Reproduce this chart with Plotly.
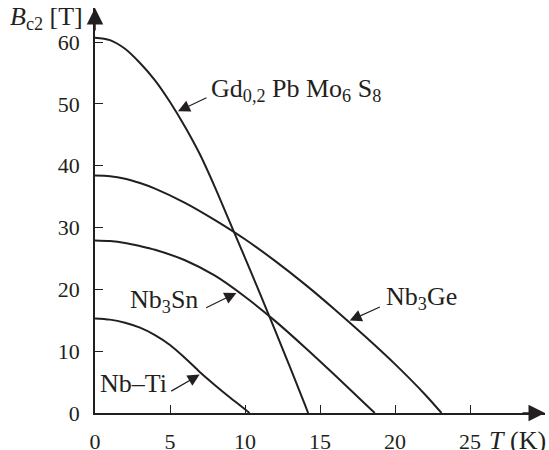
import plotly.graph_objects as go

# Upper critical field Bc2 [T] vs temperature T [K]
T_gd = [0, 1, 2, 3, 4, 5, 6, 7, 8, 9, 10, 11, 12, 13, 14, 14.21]
B_gd = [60.7, 60.3, 58.9, 56.6, 53.8, 50.3, 46.3, 41.8, 36.5, 30.8, 25.1, 19.3, 13.4, 7.4, 1.3, 0]

T_ge = [0, 1, 2, 3, 4, 6, 8, 10, 12, 14, 16, 18, 20, 22, 23.1]
B_ge = [38.4, 38.3, 37.9, 37.2, 36.3, 34.0, 31.2, 28.1, 24.6, 20.8, 16.7, 12.4, 7.9, 3.0, 0]

T_sn = [0, 1, 2, 3, 4, 6, 8, 10, 12, 14, 16, 18, 18.65]
B_sn = [27.9, 27.8, 27.5, 27.0, 26.4, 24.7, 22.2, 18.8, 14.9, 10.6, 6.1, 1.5, 0]

T_ti = [0, 1, 2, 3, 4, 5, 6, 7, 8, 9, 10, 10.3]
B_ti = [15.3, 15.1, 14.6, 13.8, 12.6, 11.0, 8.9, 6.6, 4.5, 2.5, 0.6, 0]

x_ticks = [0, 5, 10, 15, 20, 25]
y_ticks = [0, 10, 20, 30, 40, 50, 60]

INK = "#231f20"
FONT = "Liberation Serif"

fig = go.Figure()
for tx, by in [(T_gd, B_gd), (T_ge, B_ge), (T_sn, B_sn), (T_ti, B_ti)]:
    fig.add_trace(go.Scatter(x=tx, y=by, mode="lines",
                             line=dict(color=INK, width=2, shape="spline", smoothing=0.9),
                             hoverinfo="skip", showlegend=False, cliponaxis=False))

# curve labels: (text, x, y, anchor) and pointer arrows (tip, tail)
labels = [
    ("Gd<sub>0,2</sub> Pb Mo<sub>6</sub> S<sub>8</sub>", 7.6, 52.2, "left"),
    ("Nb<sub>3</sub>Ge", 19.25, 18.6, "left"),
    ("Nb<sub>3</sub>Sn", 7.0, 18.1, "right"),
    ("Nb\u2013Ti", 0.2, 4.8, "left"),
]
pointers = [
    ((5.53, 48.8), (7.53, 51.1)),
    ((16.98, 14.94), (19.09, 17.26)),
    ((9.43, 19.42), (7.31, 16.89)),
    ((6.98, 6.21), (4.98, 3.40)),
]
annotations = []
for text, x, y, anc in labels:
    annotations.append(dict(text=text, x=x, y=y, xref="x", yref="y", showarrow=False,
                            xanchor=anc, yanchor="middle",
                            font=dict(family=FONT, size=26, color=INK)))
for (tx, ty), (ax, ay) in pointers:
    annotations.append(dict(text="", x=tx, y=ty, ax=ax, ay=ay, xref="x", yref="y",
                            axref="x", ayref="y", showarrow=True, arrowhead=2,
                            arrowsize=2.0, arrowwidth=1.2, arrowcolor=INK, standoff=0))
# axis arrowheads (paper coordinates, pixel offsets)
annotations.append(dict(text="", x=1, y=0, ax=-24, ay=0, xref="paper", yref="paper",
                        showarrow=True, arrowhead=2, arrowsize=2.2, arrowwidth=1.5,
                        arrowcolor=INK, standoff=0))
annotations.append(dict(text="", x=0, y=1, ax=0, ay=24, xref="paper", yref="paper",
                        showarrow=True, arrowhead=2, arrowsize=2.2, arrowwidth=1.5,
                        arrowcolor=INK, standoff=0))
# axis titles
annotations.append(dict(text="<i>B</i><sub>c2</sub> [T]", x=-0.022, y=0.975,
                        xref="paper", yref="paper", showarrow=False,
                        xanchor="right", yanchor="middle",
                        font=dict(family=FONT, size=26, color=INK)))
annotations.append(dict(text="<i>T</i> (K)", x=0.871, y=-0.069,
                        xref="paper", yref="paper", showarrow=False,
                        xanchor="left", yanchor="middle",
                        font=dict(family=FONT, size=26, color=INK)))

fig.update_layout(
    width=549, height=450,
    margin=dict(l=95, r=4, t=8, b=37),
    paper_bgcolor="white", plot_bgcolor="white",
    annotations=annotations,
    xaxis=dict(range=[0, 30], tickvals=x_ticks, ticktext=[str(v) for v in x_ticks],
               ticks="inside", ticklen=8, tickwidth=1.2, tickcolor=INK, automargin=False,
               showgrid=False, zeroline=False, showline=True, linecolor=INK, linewidth=1.5,
               tickfont=dict(family=FONT, size=22, color=INK), ticklabelstandoff=8),
    yaxis=dict(range=[0, 65.5], tickvals=y_ticks, ticktext=[str(v) for v in y_ticks],
               ticks="inside", ticklen=8, tickwidth=1.2, tickcolor=INK, automargin=False,
               showgrid=False, zeroline=False, showline=True, linecolor=INK, linewidth=1.5,
               tickfont=dict(family=FONT, size=22, color=INK), ticklabelstandoff=9),
)

# remove the browser's default 8px page margin so the 549x450 figure fills the window
fig.write_html("out.html", config={"displayModeBar": False},
               post_script="document.body.style.margin='0px';document.body.style.overflow='hidden';")
